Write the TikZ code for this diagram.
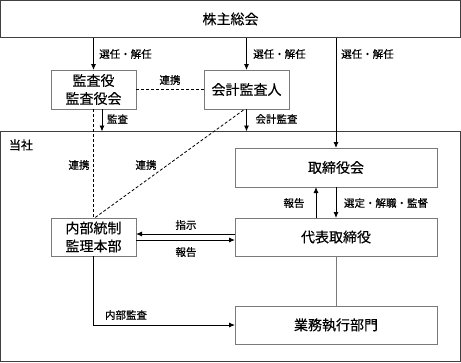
\documentclass[tikz,border=0pt]{standalone}
\usepackage{fontspec}
\setmainfont{Noto Sans CJK JP}
\newfontfamily\lblfont[FakeBold=0.6]{Noto Sans CJK JP}
\newfontfamily\boxfont[FakeBold=0.3]{Noto Sans CJK JP}
\usetikzlibrary{arrows.meta,calc}
\definecolor{boxgray}{HTML}{7A7A7A}
\definecolor{outergray}{HTML}{404040}
\tikzset{
  box/.style={draw=boxgray, line width=0.9pt, inner sep=0pt, outer sep=0pt, align=center,
    font=\boxfont\fontsize{14}{18}\selectfont},
  outer/.style={draw=outergray, line width=1pt, inner sep=0pt, outer sep=0pt,
    font=\boxfont\fontsize{14}{18}\selectfont},
  lbl/.style={inner sep=0pt, font=\lblfont\fontsize{10.5}{12}\selectfont},
  arr/.style={draw=black, line width=0.9pt, -{Latex[length=6pt,width=5pt]}},
  dsh/.style={draw=black, line width=0.8pt, dash pattern=on 3pt off 2pt},
}
\begin{document}
\begin{tikzpicture}[x=1pt,y=-1pt]
\useasboundingbox (0,0) rectangle (461,362);
% boxes
\node[outer, minimum width=460pt, minimum height=37pt] (top) at (230.5,19) {株主総会};
\node[outer, minimum width=460pt, minimum height=230pt] (tosha) at (230.5,246.5) {};
\node[lbl, font=\lblfont\fontsize{12}{14}\selectfont] (toshalbl) at (21,145) {当社};
\node[box, minimum width=85pt, minimum height=39pt] (kansa) at (93.5,89.5) {監査役\\監査役会};
\node[box, minimum width=85pt, minimum height=39pt] (kaikei) at (246.5,89.5) {会計監査人};
\node[box, minimum width=202pt, minimum height=39pt] (board) at (336,167.5) {取締役会};
\node[box, minimum width=202pt, minimum height=38pt] (ceo) at (336,237) {代表取締役};
\node[box, minimum width=202pt, minimum height=38pt] (ops) at (336,325) {業務執行部門};
\node[box, minimum width=85pt, minimum height=38pt] (naibu) at (93.5,237) {内部統制\\監理本部};
% connectors from shareholders meeting
\draw[arr] (top.south -| kansa.north) -- (kansa.north);
\draw[arr] (top.south -| kaikei.north) -- (kaikei.north);
\draw[arr] (top.south -| board.north) -- (board.north);
\node[lbl] (l1) at (125.5,54) {選任・解任};
\node[lbl] (l2) at (279.5,54) {選任・解任};
\node[lbl] (l3) at (367.5,54) {選任・解任};
% kansa - kaikei
\draw[dsh] (kansa.east) -- (kaikei.east -| kaikei.west);
\node[lbl] (l4) at (170,80) {連携};
% audits
\draw[arr] ([xshift=8.5pt]kansa.south) -- ([xshift=8.5pt]kansa.south |- tosha.north);
\node[lbl] (l5) at (117.5,119) {監査};
\draw[arr] (kaikei.south) -- (kaikei.south |- tosha.north);
\node[lbl] (l6) at (276.5,119) {会計監査};
\draw[dsh] (kansa.south) -- (naibu.north);
\draw[dsh] ([xshift=-3pt,yshift=-1pt]kaikei.south) -- ([xshift=1pt]naibu.north);
\node[lbl] (l7) at (79,165) {連携};
\node[lbl] (l8) at (146,165) {連携};
% board - ceo
\draw[arr] ([xshift=-20pt]ceo.north) -- ([xshift=-20pt]board.south);
\draw[arr] (board.south) -- (ceo.north);
\node[lbl] (l9) at (294,203) {報告};
\node[lbl] (l10) at (386,203) {選定・解職・監督};
% ceo - naibu
\draw[arr] ([yshift=3pt]ceo.west) -- ([yshift=3pt]naibu.east);
\draw[arr] ([yshift=-3pt]naibu.east) -- ([yshift=-3pt]ceo.west);
\node[lbl] (l11) at (186,225) {指示};
\node[lbl] (l12) at (186,252) {報告};
% ceo - ops
\draw[draw=boxgray, line width=0.9pt] (ceo.south) -- (ops.north);
% internal audit
\draw[arr] (naibu.south) |- (ops.west);
\node[lbl] (l13) at (126,315) {内部監査};
\end{tikzpicture}
\end{document}
